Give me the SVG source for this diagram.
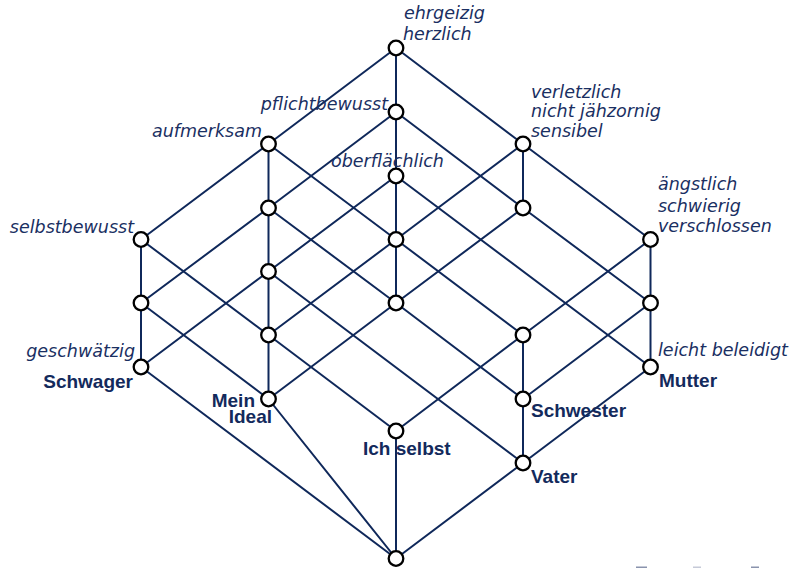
<svg xmlns="http://www.w3.org/2000/svg" width="803" height="568" viewBox="0 0 803 568">
<style>
.e{stroke:#0f285a;stroke-width:2;fill:none;stroke-linecap:round}
.n{fill:#fff;stroke:#000;stroke-width:2.3}
.a{font-family:"DejaVu Sans",sans-serif;font-style:italic;font-size:17.5px;fill:#1a2f62}
.o{font-family:"Liberation Sans",Arial,sans-serif;font-weight:bold;font-size:19px;fill:#132a5c}
</style>
<rect width="803" height="568" fill="#fff"/>
<g id="edges" class="e">
<line x1="396" y1="48" x2="396" y2="112"/>
<line x1="396" y1="48" x2="268.5" y2="144"/>
<line x1="396" y1="48" x2="523" y2="144"/>
<line x1="396" y1="112" x2="396" y2="176"/>
<line x1="396" y1="112" x2="268.5" y2="208"/>
<line x1="396" y1="112" x2="523" y2="208"/>
<line x1="268.5" y1="144" x2="268.5" y2="208"/>
<line x1="268.5" y1="144" x2="141" y2="239.5"/>
<line x1="268.5" y1="144" x2="396" y2="239.5"/>
<line x1="523" y1="144" x2="523" y2="208"/>
<line x1="523" y1="144" x2="396" y2="239.5"/>
<line x1="523" y1="144" x2="650.5" y2="239.5"/>
<line x1="396" y1="176" x2="396" y2="239.5"/>
<line x1="396" y1="176" x2="268.5" y2="271.5"/>
<line x1="396" y1="176" x2="650.5" y2="367"/>
<line x1="268.5" y1="208" x2="268.5" y2="271.5"/>
<line x1="268.5" y1="208" x2="141" y2="303"/>
<line x1="268.5" y1="208" x2="396" y2="303"/>
<line x1="523" y1="208" x2="396" y2="303"/>
<line x1="523" y1="208" x2="650.5" y2="303"/>
<line x1="141" y1="239.5" x2="141" y2="303"/>
<line x1="141" y1="239.5" x2="268.5" y2="335"/>
<line x1="396" y1="239.5" x2="396" y2="303"/>
<line x1="396" y1="239.5" x2="268.5" y2="335"/>
<line x1="396" y1="239.5" x2="523" y2="335"/>
<line x1="650.5" y1="239.5" x2="650.5" y2="303"/>
<line x1="650.5" y1="239.5" x2="523" y2="335"/>
<line x1="268.5" y1="271.5" x2="268.5" y2="335"/>
<line x1="268.5" y1="271.5" x2="141" y2="367"/>
<line x1="268.5" y1="271.5" x2="523" y2="463"/>
<line x1="141" y1="303" x2="141" y2="367"/>
<line x1="141" y1="303" x2="268.5" y2="399"/>
<line x1="396" y1="303" x2="268.5" y2="399"/>
<line x1="396" y1="303" x2="523" y2="399"/>
<line x1="650.5" y1="303" x2="650.5" y2="367"/>
<line x1="650.5" y1="303" x2="523" y2="399"/>
<line x1="268.5" y1="335" x2="268.5" y2="399"/>
<line x1="268.5" y1="335" x2="396" y2="431"/>
<line x1="523" y1="335" x2="523" y2="399"/>
<line x1="523" y1="335" x2="396" y2="431"/>
<line x1="141" y1="367" x2="396" y2="558.5"/>
<line x1="650.5" y1="367" x2="523" y2="463"/>
<line x1="268.5" y1="399" x2="396" y2="558.5"/>
<line x1="523" y1="399" x2="523" y2="463"/>
<line x1="396" y1="431" x2="396" y2="558.5"/>
<line x1="523" y1="463" x2="396" y2="558.5"/>
</g>
<g id="n_top"><circle class="n" cx="396" cy="48" r="7.3"/><text class="a" x="404" y="19">ehrgeizig</text><text class="a" x="403" y="40">herzlich</text></g>
<g id="n_pflicht"><circle class="n" cx="396" cy="112" r="7.3"/><text class="a" x="388" y="110" text-anchor="end">pflichtbewusst</text></g>
<g id="n_aufm"><circle class="n" cx="268.5" cy="144" r="7.3"/><text class="a" x="262" y="137" text-anchor="end">aufmerksam</text></g>
<g id="n_verl"><circle class="n" cx="523" cy="144" r="7.3"/><text class="a" x="531" y="98">verletzlich</text><text class="a" x="531" y="117">nicht jähzornig</text><text class="a" x="531" y="137">sensibel</text></g>
<g id="n_oberfl"><circle class="n" cx="396" cy="176" r="7.3"/><text class="a" x="331" y="167">oberflächlich</text></g>
<g id="n_5a"><circle class="n" cx="268.5" cy="208" r="7.3"/></g>
<g id="n_5b"><circle class="n" cx="523" cy="208" r="7.3"/></g>
<g id="n_selbstb"><circle class="n" cx="141" cy="239.5" r="7.3"/><text class="a" x="134" y="233" text-anchor="end">selbstbewusst</text></g>
<g id="n_6b"><circle class="n" cx="396" cy="239.5" r="7.3"/></g>
<g id="n_aengstl"><circle class="n" cx="650.5" cy="239.5" r="7.3"/><text class="a" x="658" y="190">ängstlich</text><text class="a" x="658" y="212">schwierig</text><text class="a" x="658" y="232">verschlossen</text></g>
<g id="n_7a"><circle class="n" cx="268.5" cy="271.5" r="7.3"/></g>
<g id="n_8a"><circle class="n" cx="141" cy="303" r="7.3"/></g>
<g id="n_8b"><circle class="n" cx="396" cy="303" r="7.3"/></g>
<g id="n_8c"><circle class="n" cx="650.5" cy="303" r="7.3"/></g>
<g id="n_9a"><circle class="n" cx="268.5" cy="335" r="7.3"/></g>
<g id="n_9b"><circle class="n" cx="523" cy="335" r="7.3"/></g>
<g id="n_schwager"><circle class="n" cx="141" cy="367" r="7.3"/><text class="a" x="135" y="357" text-anchor="end">geschwätzig</text><text class="o" x="133" y="388" text-anchor="end">Schwager</text></g>
<g id="n_mutter"><circle class="n" cx="650.5" cy="367" r="7.3"/><text class="a" x="658" y="356">leicht beleidigt</text><text class="o" x="659" y="387">Mutter</text></g>
<g id="n_ideal"><circle class="n" cx="268.5" cy="399" r="7.3"/><text class="o" x="255" y="407" text-anchor="end">Mein</text><text class="o" x="272" y="423" text-anchor="end">Ideal</text></g>
<g id="n_schwester"><circle class="n" cx="523" cy="399" r="7.3"/><text class="o" x="531" y="417">Schwester</text></g>
<g id="n_ich"><circle class="n" cx="396" cy="431" r="7.3"/><text class="o" x="363" y="455">Ich selbst</text></g>
<g id="n_vater"><circle class="n" cx="523" cy="463" r="7.3"/><text class="o" x="531" y="483">Vater</text></g>
<g id="n_bottom"><circle class="n" cx="396" cy="558.5" r="7.3"/></g>
<g id="nav">
<rect x="636" y="566.5" width="11" height="1.5" fill="#8a93ad"/>
<rect x="693" y="566.5" width="8" height="1.5" fill="#c6cad8"/>
<rect x="751" y="566.5" width="8" height="1.5" fill="#8a93ad"/>
</g>
</svg>
